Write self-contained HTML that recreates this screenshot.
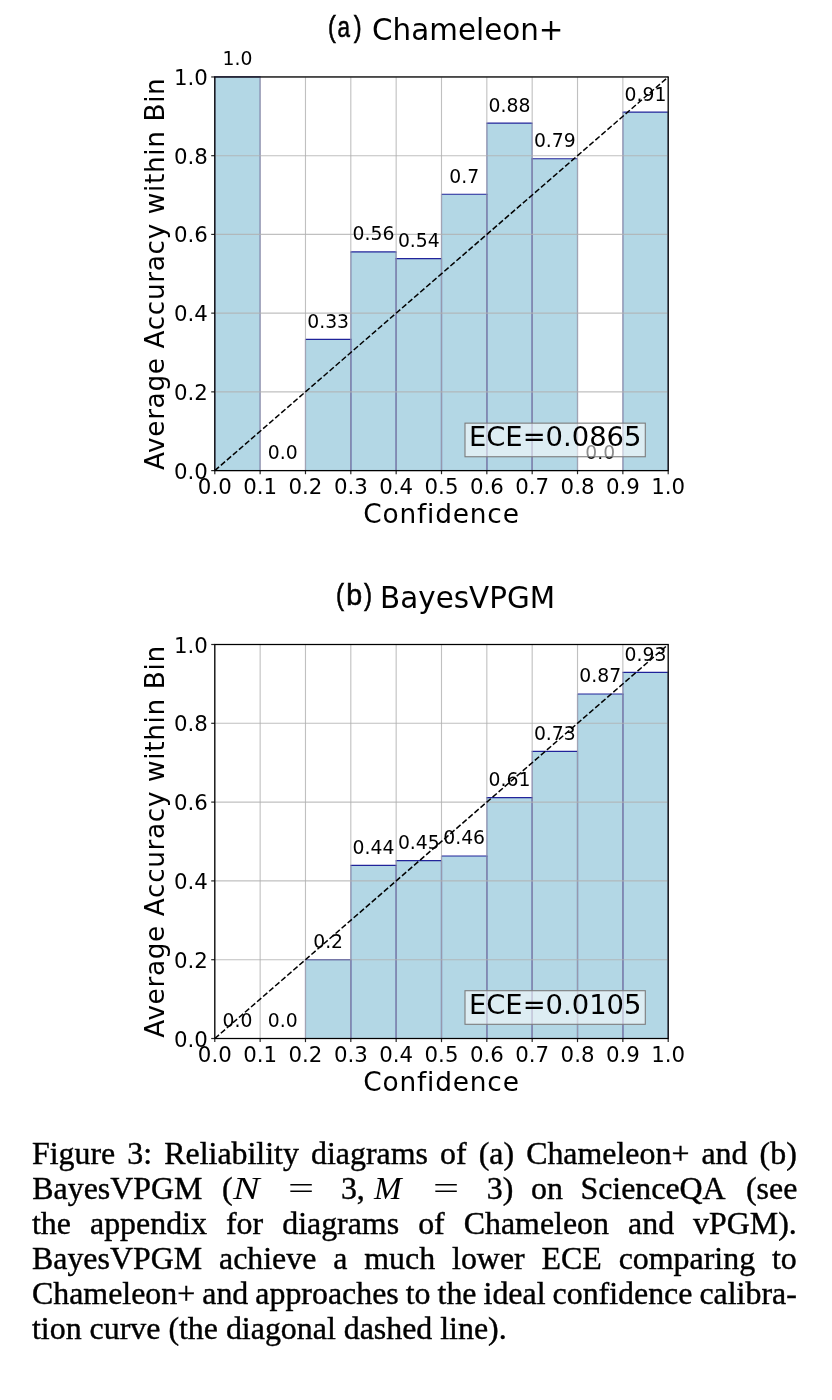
<!DOCTYPE html>
<html lang="en">
<head>
<meta charset="utf-8">
<title>Figure 3: Reliability diagrams</title>
<style>
html,body{margin:0;padding:0;background:#fff;}
body{width:832px;height:1400px;position:relative;overflow:hidden;}
svg{position:absolute;left:0;top:0;}
svg text{font-family:"DejaVu Sans","Liberation Sans",sans-serif;fill:#000;}
.grid{stroke:#b0b0b0;stroke-opacity:0.8;stroke-width:1.1;}
.bar{fill:#b3d7e5;}
.bside{fill:none;stroke:#00008b;stroke-opacity:0.5;stroke-width:1.15;}
.btop{stroke:#00008b;stroke-opacity:0.85;stroke-width:1.2;}
.diag{stroke:#000;stroke-width:1.5;stroke-dasharray:5.6 2.4;}
.spine{fill:none;stroke:#000;stroke-width:1.25;}
.tick{stroke:#000;stroke-opacity:0.85;stroke-width:1.2;}
.xt{font-size:21.3px;text-anchor:middle;}
.yt{font-size:21.3px;text-anchor:end;}
.val{font-size:18.8px;text-anchor:middle;}
.ecebox{fill:#fff;fill-opacity:0.55;stroke:#7c7c7c;stroke-width:1.1;}
.ece{font-size:27.4px;}
.xl{font-size:26.4px;text-anchor:middle;letter-spacing:0.8px;}
.yl{font-size:26.4px;text-anchor:middle;letter-spacing:0.6px;}
.tt{font-size:29.4px;}
svg text.tag{font-family:"Liberation Sans",sans-serif;font-size:29.5px;stroke:#000;stroke-width:0.6px;}
.cl{position:absolute;left:32.0px;width:764.8px;-webkit-text-stroke:0.4px #000;height:36px;line-height:36px;font-family:"Liberation Serif",serif;font-size:31.9px;color:#000;text-align:justify;text-align-last:justify;white-space:nowrap;word-spacing:-3px;}
.cl.last{text-align:left;text-align-last:left;word-spacing:0;}
.cl.l2{word-spacing:0;text-align:left;text-align-last:left;}
.cl .w{position:absolute;top:0;}
.cl .mi{-webkit-text-stroke:0;display:inline-block;transform:scaleX(1.25);transform-origin:0 50%;font-style:italic;}
.cl .mm{transform:scaleX(1.04);}
.cl .eq{-webkit-text-stroke:0;transform:scaleX(1.45);transform-origin:0 50%;}
</style>
</head>
<body>
<svg width="832" height="1400" viewBox="0 0 832 1400">
<rect x="214.80" y="76.95" width="45.34" height="393.65" class="bar"/>
<rect x="305.48" y="339.40" width="45.34" height="131.20" class="bar"/>
<rect x="350.82" y="251.89" width="45.34" height="218.71" class="bar"/>
<rect x="396.16" y="258.62" width="45.34" height="211.98" class="bar"/>
<rect x="441.50" y="194.26" width="45.34" height="276.34" class="bar"/>
<rect x="486.84" y="123.16" width="45.34" height="347.44" class="bar"/>
<rect x="532.18" y="158.75" width="45.34" height="311.85" class="bar"/>
<rect x="622.86" y="112.14" width="45.34" height="358.46" class="bar"/>
<path d="M214.80 470.60V76.95M260.14 76.95V470.60" class="bside"/>
<line x1="214.30" y1="76.95" x2="260.64" y2="76.95" class="btop"/>
<path d="M305.48 470.60V339.40M350.82 339.40V470.60" class="bside"/>
<line x1="304.98" y1="339.40" x2="351.32" y2="339.40" class="btop"/>
<path d="M350.82 470.60V251.89M396.16 251.89V470.60" class="bside"/>
<line x1="350.32" y1="251.89" x2="396.66" y2="251.89" class="btop"/>
<path d="M396.16 470.60V258.62M441.50 258.62V470.60" class="bside"/>
<line x1="395.66" y1="258.62" x2="442.00" y2="258.62" class="btop"/>
<path d="M441.50 470.60V194.26M486.84 194.26V470.60" class="bside"/>
<line x1="441.00" y1="194.26" x2="487.34" y2="194.26" class="btop"/>
<path d="M486.84 470.60V123.16M532.18 123.16V470.60" class="bside"/>
<line x1="486.34" y1="123.16" x2="532.68" y2="123.16" class="btop"/>
<path d="M532.18 470.60V158.75M577.52 158.75V470.60" class="bside"/>
<line x1="531.68" y1="158.75" x2="578.02" y2="158.75" class="btop"/>
<path d="M622.86 470.60V112.14M668.20 112.14V470.60" class="bside"/>
<line x1="622.36" y1="112.14" x2="668.70" y2="112.14" class="btop"/>
<line x1="214.80" y1="76.95" x2="214.80" y2="470.60" class="grid"/>
<line x1="260.14" y1="76.95" x2="260.14" y2="470.60" class="grid"/>
<line x1="305.48" y1="76.95" x2="305.48" y2="470.60" class="grid"/>
<line x1="350.82" y1="76.95" x2="350.82" y2="470.60" class="grid"/>
<line x1="396.16" y1="76.95" x2="396.16" y2="470.60" class="grid"/>
<line x1="441.50" y1="76.95" x2="441.50" y2="470.60" class="grid"/>
<line x1="486.84" y1="76.95" x2="486.84" y2="470.60" class="grid"/>
<line x1="532.18" y1="76.95" x2="532.18" y2="470.60" class="grid"/>
<line x1="577.52" y1="76.95" x2="577.52" y2="470.60" class="grid"/>
<line x1="622.86" y1="76.95" x2="622.86" y2="470.60" class="grid"/>
<line x1="668.20" y1="76.95" x2="668.20" y2="470.60" class="grid"/>
<line x1="214.80" y1="470.60" x2="668.20" y2="470.60" class="grid"/>
<line x1="214.80" y1="391.87" x2="668.20" y2="391.87" class="grid"/>
<line x1="214.80" y1="313.14" x2="668.20" y2="313.14" class="grid"/>
<line x1="214.80" y1="234.41" x2="668.20" y2="234.41" class="grid"/>
<line x1="214.80" y1="155.68" x2="668.20" y2="155.68" class="grid"/>
<line x1="214.80" y1="76.95" x2="668.20" y2="76.95" class="grid"/>
<text x="237.47" y="65.35" class="val">1.0</text>
<text x="282.81" y="459.00" class="val">0.0</text>
<text x="328.15" y="327.80" class="val">0.33</text>
<text x="373.49" y="240.29" class="val">0.56</text>
<text x="418.83" y="247.02" class="val">0.54</text>
<text x="464.17" y="182.66" class="val">0.7</text>
<text x="509.51" y="111.56" class="val">0.88</text>
<text x="554.85" y="147.15" class="val">0.79</text>
<text x="600.19" y="459.00" class="val">0.0</text>
<text x="645.53" y="100.54" class="val">0.91</text>
<line x1="214.80" y1="470.60" x2="668.20" y2="76.95" class="diag"/>
<rect x="214.80" y="76.95" width="453.40" height="393.65" class="spine"/>
<line x1="214.80" y1="470.60" x2="214.80" y2="474.20" class="tick"/>
<text x="214.80" y="494.00" class="xt">0.0</text>
<line x1="260.14" y1="470.60" x2="260.14" y2="474.20" class="tick"/>
<text x="260.14" y="494.00" class="xt">0.1</text>
<line x1="305.48" y1="470.60" x2="305.48" y2="474.20" class="tick"/>
<text x="305.48" y="494.00" class="xt">0.2</text>
<line x1="350.82" y1="470.60" x2="350.82" y2="474.20" class="tick"/>
<text x="350.82" y="494.00" class="xt">0.3</text>
<line x1="396.16" y1="470.60" x2="396.16" y2="474.20" class="tick"/>
<text x="396.16" y="494.00" class="xt">0.4</text>
<line x1="441.50" y1="470.60" x2="441.50" y2="474.20" class="tick"/>
<text x="441.50" y="494.00" class="xt">0.5</text>
<line x1="486.84" y1="470.60" x2="486.84" y2="474.20" class="tick"/>
<text x="486.84" y="494.00" class="xt">0.6</text>
<line x1="532.18" y1="470.60" x2="532.18" y2="474.20" class="tick"/>
<text x="532.18" y="494.00" class="xt">0.7</text>
<line x1="577.52" y1="470.60" x2="577.52" y2="474.20" class="tick"/>
<text x="577.52" y="494.00" class="xt">0.8</text>
<line x1="622.86" y1="470.60" x2="622.86" y2="474.20" class="tick"/>
<text x="622.86" y="494.00" class="xt">0.9</text>
<line x1="668.20" y1="470.60" x2="668.20" y2="474.20" class="tick"/>
<text x="668.20" y="494.00" class="xt">1.0</text>
<line x1="211.20" y1="470.60" x2="214.80" y2="470.60" class="tick"/>
<text x="207.80" y="478.60" class="yt">0.0</text>
<line x1="211.20" y1="391.87" x2="214.80" y2="391.87" class="tick"/>
<text x="207.80" y="399.87" class="yt">0.2</text>
<line x1="211.20" y1="313.14" x2="214.80" y2="313.14" class="tick"/>
<text x="207.80" y="321.14" class="yt">0.4</text>
<line x1="211.20" y1="234.41" x2="214.80" y2="234.41" class="tick"/>
<text x="207.80" y="242.41" class="yt">0.6</text>
<line x1="211.20" y1="155.68" x2="214.80" y2="155.68" class="tick"/>
<text x="207.80" y="163.68" class="yt">0.8</text>
<line x1="211.20" y1="76.95" x2="214.80" y2="76.95" class="tick"/>
<text x="207.80" y="84.95" class="yt">1.0</text>
<rect x="465.0" y="423.15" width="180.3" height="33.6" class="ecebox"/>
<text x="468.90" y="446.45" class="ece">ECE=0.0865</text>
<text x="441.50" y="522.90" class="xl">Confidence</text>
<text transform="translate(163.8 273.78) rotate(-90)" class="yl">Average Accuracy within Bin</text>
<text y="36.95" class="tag"><tspan x="327.90" textLength="7.86" lengthAdjust="spacingAndGlyphs">(</tspan><tspan x="337.40" textLength="12.47" lengthAdjust="spacingAndGlyphs">a</tspan><tspan x="353.80" textLength="7.86" lengthAdjust="spacingAndGlyphs">)</tspan></text>
<text x="372.1" y="39.65" class="tt">Chameleon+</text>
<rect x="305.48" y="959.58" width="45.34" height="78.92" class="bar"/>
<rect x="350.82" y="865.42" width="45.34" height="173.08" class="bar"/>
<rect x="396.16" y="860.69" width="45.34" height="177.81" class="bar"/>
<rect x="441.50" y="856.00" width="45.34" height="182.50" class="bar"/>
<rect x="486.84" y="797.69" width="45.34" height="240.81" class="bar"/>
<rect x="532.18" y="751.43" width="45.34" height="287.07" class="bar"/>
<rect x="577.52" y="693.99" width="45.34" height="344.51" class="bar"/>
<rect x="622.86" y="672.32" width="45.34" height="366.18" class="bar"/>
<path d="M305.48 1038.50V959.58M350.82 959.58V1038.50" class="bside"/>
<line x1="304.98" y1="959.58" x2="351.32" y2="959.58" class="btop"/>
<path d="M350.82 1038.50V865.42M396.16 865.42V1038.50" class="bside"/>
<line x1="350.32" y1="865.42" x2="396.66" y2="865.42" class="btop"/>
<path d="M396.16 1038.50V860.69M441.50 860.69V1038.50" class="bside"/>
<line x1="395.66" y1="860.69" x2="442.00" y2="860.69" class="btop"/>
<path d="M441.50 1038.50V856.00M486.84 856.00V1038.50" class="bside"/>
<line x1="441.00" y1="856.00" x2="487.34" y2="856.00" class="btop"/>
<path d="M486.84 1038.50V797.69M532.18 797.69V1038.50" class="bside"/>
<line x1="486.34" y1="797.69" x2="532.68" y2="797.69" class="btop"/>
<path d="M532.18 1038.50V751.43M577.52 751.43V1038.50" class="bside"/>
<line x1="531.68" y1="751.43" x2="578.02" y2="751.43" class="btop"/>
<path d="M577.52 1038.50V693.99M622.86 693.99V1038.50" class="bside"/>
<line x1="577.02" y1="693.99" x2="623.36" y2="693.99" class="btop"/>
<path d="M622.86 1038.50V672.32M668.20 672.32V1038.50" class="bside"/>
<line x1="622.36" y1="672.32" x2="668.70" y2="672.32" class="btop"/>
<line x1="214.80" y1="644.50" x2="214.80" y2="1038.50" class="grid"/>
<line x1="260.14" y1="644.50" x2="260.14" y2="1038.50" class="grid"/>
<line x1="305.48" y1="644.50" x2="305.48" y2="1038.50" class="grid"/>
<line x1="350.82" y1="644.50" x2="350.82" y2="1038.50" class="grid"/>
<line x1="396.16" y1="644.50" x2="396.16" y2="1038.50" class="grid"/>
<line x1="441.50" y1="644.50" x2="441.50" y2="1038.50" class="grid"/>
<line x1="486.84" y1="644.50" x2="486.84" y2="1038.50" class="grid"/>
<line x1="532.18" y1="644.50" x2="532.18" y2="1038.50" class="grid"/>
<line x1="577.52" y1="644.50" x2="577.52" y2="1038.50" class="grid"/>
<line x1="622.86" y1="644.50" x2="622.86" y2="1038.50" class="grid"/>
<line x1="668.20" y1="644.50" x2="668.20" y2="1038.50" class="grid"/>
<line x1="214.80" y1="1038.50" x2="668.20" y2="1038.50" class="grid"/>
<line x1="214.80" y1="959.70" x2="668.20" y2="959.70" class="grid"/>
<line x1="214.80" y1="880.90" x2="668.20" y2="880.90" class="grid"/>
<line x1="214.80" y1="802.10" x2="668.20" y2="802.10" class="grid"/>
<line x1="214.80" y1="723.30" x2="668.20" y2="723.30" class="grid"/>
<line x1="214.80" y1="644.50" x2="668.20" y2="644.50" class="grid"/>
<text x="237.47" y="1026.90" class="val">0.0</text>
<text x="282.81" y="1026.90" class="val">0.0</text>
<text x="328.15" y="947.98" class="val">0.2</text>
<text x="373.49" y="853.82" class="val">0.44</text>
<text x="418.83" y="849.09" class="val">0.45</text>
<text x="464.17" y="844.40" class="val">0.46</text>
<text x="509.51" y="786.09" class="val">0.61</text>
<text x="554.85" y="739.83" class="val">0.73</text>
<text x="600.19" y="682.39" class="val">0.87</text>
<text x="645.53" y="660.72" class="val">0.93</text>
<line x1="214.80" y1="1038.50" x2="668.20" y2="644.50" class="diag"/>
<rect x="214.80" y="644.50" width="453.40" height="394.00" class="spine"/>
<line x1="214.80" y1="1038.50" x2="214.80" y2="1042.10" class="tick"/>
<text x="214.80" y="1061.90" class="xt">0.0</text>
<line x1="260.14" y1="1038.50" x2="260.14" y2="1042.10" class="tick"/>
<text x="260.14" y="1061.90" class="xt">0.1</text>
<line x1="305.48" y1="1038.50" x2="305.48" y2="1042.10" class="tick"/>
<text x="305.48" y="1061.90" class="xt">0.2</text>
<line x1="350.82" y1="1038.50" x2="350.82" y2="1042.10" class="tick"/>
<text x="350.82" y="1061.90" class="xt">0.3</text>
<line x1="396.16" y1="1038.50" x2="396.16" y2="1042.10" class="tick"/>
<text x="396.16" y="1061.90" class="xt">0.4</text>
<line x1="441.50" y1="1038.50" x2="441.50" y2="1042.10" class="tick"/>
<text x="441.50" y="1061.90" class="xt">0.5</text>
<line x1="486.84" y1="1038.50" x2="486.84" y2="1042.10" class="tick"/>
<text x="486.84" y="1061.90" class="xt">0.6</text>
<line x1="532.18" y1="1038.50" x2="532.18" y2="1042.10" class="tick"/>
<text x="532.18" y="1061.90" class="xt">0.7</text>
<line x1="577.52" y1="1038.50" x2="577.52" y2="1042.10" class="tick"/>
<text x="577.52" y="1061.90" class="xt">0.8</text>
<line x1="622.86" y1="1038.50" x2="622.86" y2="1042.10" class="tick"/>
<text x="622.86" y="1061.90" class="xt">0.9</text>
<line x1="668.20" y1="1038.50" x2="668.20" y2="1042.10" class="tick"/>
<text x="668.20" y="1061.90" class="xt">1.0</text>
<line x1="211.20" y1="1038.50" x2="214.80" y2="1038.50" class="tick"/>
<text x="207.80" y="1046.50" class="yt">0.0</text>
<line x1="211.20" y1="959.70" x2="214.80" y2="959.70" class="tick"/>
<text x="207.80" y="967.70" class="yt">0.2</text>
<line x1="211.20" y1="880.90" x2="214.80" y2="880.90" class="tick"/>
<text x="207.80" y="888.90" class="yt">0.4</text>
<line x1="211.20" y1="802.10" x2="214.80" y2="802.10" class="tick"/>
<text x="207.80" y="810.10" class="yt">0.6</text>
<line x1="211.20" y1="723.30" x2="214.80" y2="723.30" class="tick"/>
<text x="207.80" y="731.30" class="yt">0.8</text>
<line x1="211.20" y1="644.50" x2="214.80" y2="644.50" class="tick"/>
<text x="207.80" y="652.50" class="yt">1.0</text>
<rect x="465.0" y="990.70" width="180.3" height="33.6" class="ecebox"/>
<text x="468.90" y="1014.00" class="ece">ECE=0.0105</text>
<text x="441.50" y="1090.80" class="xl">Confidence</text>
<text transform="translate(163.8 841.50) rotate(-90)" class="yl">Average Accuracy within Bin</text>
<text y="604.50" class="tag"><tspan x="336.10" textLength="8.06" lengthAdjust="spacingAndGlyphs">(</tspan><tspan x="346.30" textLength="15.91" lengthAdjust="spacingAndGlyphs">b</tspan><tspan x="363.90" textLength="8.06" lengthAdjust="spacingAndGlyphs">)</tspan></text>
<text x="380.1" y="607.90" class="tt">BayesVPGM</text>
</svg>
<div class="cl" style="top:1136.00px">Figure 3: Reliability diagrams of (a) Chameleon+ and (b)</div>
<div class="cl l2" style="top:1171.00px"><span class="w " style="left:0.30px">BayesVPGM</span> <span class="w " style="left:190.00px">(<i class='mi'>N</i></span> <span class="w eq" style="left:255.80px">=</span> <span class="w " style="left:308.90px">3,</span> <span class="w " style="left:342.20px"><i class='mi mm'>M</i></span> <span class="w eq" style="left:400.80px">=</span> <span class="w " style="left:454.70px">3)</span> <span class="w " style="left:499.10px">on</span> <span class="w " style="left:548.40px">ScienceQA</span> <span class="w " style="left:714.00px">(see</span></div>
<div class="cl" style="top:1206.00px">the appendix for diagrams of Chameleon and vPGM).</div>
<div class="cl" style="top:1241.00px">BayesVPGM achieve a much lower ECE comparing to</div>
<div class="cl" style="top:1276.00px">Chameleon+ and approaches to the ideal confidence calibra-</div>
<div class="cl last" style="top:1311.00px">tion curve (the diagonal dashed line).</div>
</body>
</html>
